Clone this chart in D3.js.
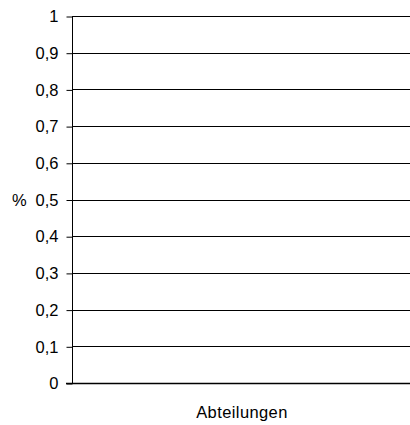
<!DOCTYPE html>
<html><head><meta charset="utf-8">
<script src="https://cdn.jsdelivr.net/npm/d3@7/dist/d3.min.js"></script>
<style>body{margin:0;background:#fff}svg{display:block}text{font-family:"Liberation Sans",Arial,sans-serif;fill:#000}</style>
</head><body>
<script>
const categories = [];
const values = [];
const yTicks = [0,0.1,0.2,0.3,0.4,0.5,0.6,0.7,0.8,0.9,1];
const yTickLabels = ["0","0,1","0,2","0,3","0,4","0,5","0,6","0,7","0,8","0,9","1"];
const xTitle = "Abteilungen";
const yTitle = "%";

const W=410,H=425;
const m={left:72,right:0,top:16,bottom:42};
const svg=d3.select("body").append("svg").attr("width",W).attr("height",H);
const y=d3.scaleLinear().domain([0,1]).range([H-m.bottom,m.top]);
const x=d3.scaleBand().domain(categories).range([m.left,W-m.right]);

// gridlines
svg.append("g").selectAll("line").data(yTicks.filter(d=>d>0)).join("line")
  .attr("x1",m.left).attr("x2",W).attr("y1",d=>Math.round(y(d))+0.5).attr("y2",d=>Math.round(y(d))+0.5)
  .attr("stroke","#000").attr("stroke-width",1);

const yAxis=d3.axisLeft(y).tickValues(yTicks).tickFormat((d,i)=>yTickLabels[i]).tickSize(6).tickPadding(8);
const g=svg.append("g").attr("transform",`translate(${m.left+0.5},0.5)`).call(yAxis);
g.select(".domain").attr("stroke","#000").attr("d",`M-0,${y(1)}V${y(0)}`);
g.selectAll("text").style("font-size","16.5px").attr("fill","#000");
g.selectAll(".tick line").attr("stroke","#000");

// bottom axis line
svg.append("line").attr("x1",m.left-6).attr("x2",W).attr("y1",Math.round(y(0))+0.5).attr("y2",Math.round(y(0))+0.5).attr("stroke","#000").attr("stroke-width",1.5);

svg.append("text").attr("x",(m.left+W)/2+1).attr("y",418).attr("text-anchor","middle").style("font-size","16.5px").style("letter-spacing","0.4px").text(xTitle);
svg.append("text").attr("x",12).attr("y",y(0.5)+6).style("font-size","16.5px").text(yTitle);
</script>
</body></html>
